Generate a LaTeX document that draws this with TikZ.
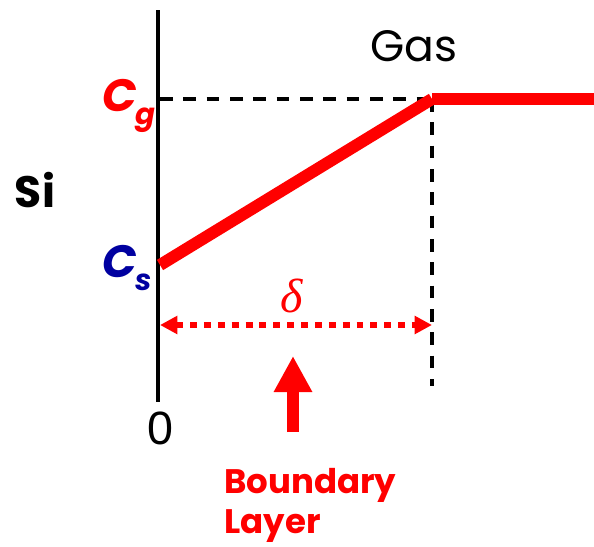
\documentclass[tikz,border=0pt]{standalone}
\usepackage{fontspec}
\setmainfont{Poppins}
\newfontfamily\greekfont{Liberation Serif}
\newfontfamily\arialfont{Liberation Sans}
\usetikzlibrary{arrows.meta}
\definecolor{myred}{RGB}{255,0,0}
\definecolor{myblue}{RGB}{0,0,160}
\begin{document}
\begin{tikzpicture}[x=0.75pt,y=-0.75pt,
  lbl/.style={inner sep=0pt},
  axisline/.style={line width=3.6pt,black},
  guide/.style={line width=2.6pt,black,dash pattern=on 9.5pt off 8pt},
  profile/.style={line width=9pt,myred},
  dotarrow/.style={line width=5pt,myred,dash pattern=on 5.2pt off 5.2pt,{Triangle[length=13pt,width=13pt]}-{Triangle[length=13pt,width=13pt]}}]
\useasboundingbox (0,0) rectangle (594,547);
\coordinate (top) at (158,10);
\coordinate (bot) at (158,402);
\coordinate (cg) at (160,99);
\coordinate (cs) at (160,265);
\coordinate (knee) at (432,99);
\coordinate (right) at (594,99);
\coordinate (vdbot) at (432,386);
\coordinate (dl) at (160,325);
\coordinate (dr) at (432,325);
\coordinate (abot) at (293,432);
\coordinate (atop) at (293,356);
\draw[axisline] (top) -- (bot);
\draw[guide] (cg) -- (knee);
\draw[guide] (knee) -- (vdbot);
\draw[profile,line cap=butt] (cs) -- (knee);
\draw[profile] (knee) -- (right);
\draw[dotarrow] (dl) -- (dr);
\draw[myred,line width=9.5pt,-{Triangle[length=27pt,width=27pt]}] (abot) -- (atop);
\node[lbl,font=\arialfont\fontsize{35}{40}\selectfont] (zero) at (160,428) {0};
\node[lbl,font=\fontsize{33}{38}\selectfont\bfseries] (si) at (35,190) {Si};
\node[lbl,font=\fontsize{33}{38}\selectfont] (gas) at (414,46) {Gas};
\node[lbl,myred,anchor=base west,font=\fontsize{34}{40}\selectfont\bfseries\itshape] (cglbl) at (102,111) {C\kern-1pt\raisebox{-0.3em}{\fontsize{22}{26}\selectfont g}};
\node[lbl,myblue,anchor=base west,font=\fontsize{34}{40}\selectfont\bfseries\itshape] (cslbl) at (102,277) {C\kern-1pt\raisebox{-0.3em}{\fontsize{22}{26}\selectfont s}};
\node[lbl,myred,font=\greekfont\itshape\fontsize{36}{40}\selectfont] (delta) at (292,296) {δ};
\node[lbl,myred,anchor=base west,align=left,font=\fontsize{25.5}{30}\selectfont\bfseries] (bl) at (224,533) {Boundary\\Layer};
\end{tikzpicture}
\end{document}
